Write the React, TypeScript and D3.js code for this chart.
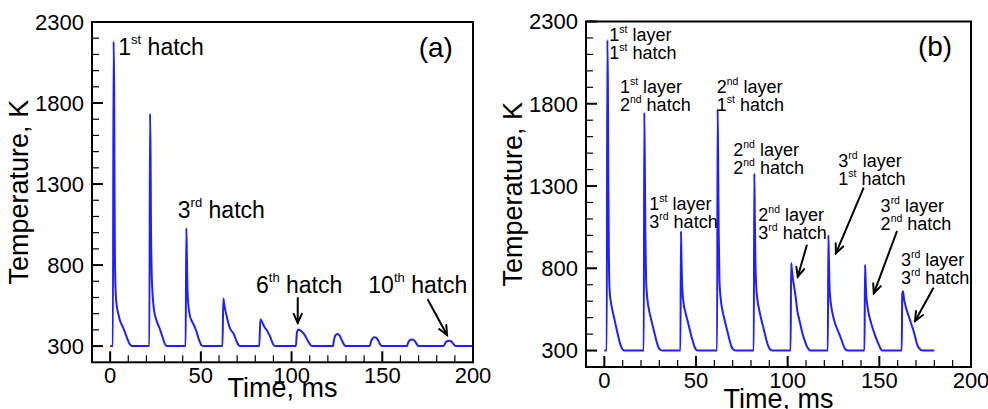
import React from "react";
import * as d3 from "d3";

type Pt = [number, number];

// Single layer, ten successive hatches: [time (ms), temperature (K)]
const singleLayerSeries: Pt[] = [
  [0, 300], [1.5, 300], [1.9, 2180], [2.2, 1900], [2.4, 1300], [2.6, 900], [2.9, 680], [3.5, 560], [4.5, 500], [5.5, 455], [6.5, 430], [7.5, 405], [8.5, 375], [9.5, 345], [10.5, 318], [11.5, 304], [12.5, 300],
  [21.6, 300], [22.0, 1735], [22.3, 1450], [22.5, 1050], [22.8, 800], [23.3, 640], [24.1, 530], [25.5, 460], [26.5, 430], [27.4, 405], [28.3, 375], [29.2, 345], [30.2, 312], [31.2, 301], [32, 300],
  [41.6, 300], [42.0, 1027], [42.3, 850], [42.6, 660], [43.0, 570], [43.9, 490], [45.0, 455], [45.7, 440], [46.7, 415], [47.6, 390], [48.5, 355], [49.4, 327], [50.3, 306], [51.2, 300],
  [61.9, 300], [62.4, 594], [63.0, 550], [64.3, 481], [65.2, 440], [66.1, 409], [67.0, 392], [68.0, 378], [69.0, 350], [69.8, 327], [70.7, 308], [71.6, 300],
  [82.2, 300], [82.8, 465], [83.5, 455], [84.5, 430], [85.4, 412], [86.3, 399], [87.2, 380], [88.2, 358], [89.1, 330], [90.0, 308], [91.0, 300],
  [102.4, 300], [102.9, 380], [103.7, 403], [104.8, 397], [106.0, 386], [107.0, 372], [107.8, 358], [108.7, 338], [109.6, 321], [110.5, 306], [111.5, 300],
  [122.8, 300], [123.4, 340], [124.2, 368], [125.2, 375], [126.3, 368], [127.4, 343], [128.5, 317], [129.4, 303], [130.2, 300],
  [143.1, 300], [143.7, 325], [144.5, 345], [145.5, 355], [146.6, 352], [147.6, 337], [148.6, 315], [149.5, 302], [150.2, 300],
  [163.6, 300], [164.2, 320], [165.0, 335], [166.2, 341], [167.3, 338], [168.3, 325], [169.2, 309], [170.0, 300],
  [183.8, 300], [184.5, 315], [185.4, 328], [186.7, 333], [187.9, 330], [188.9, 318], [189.8, 305], [190.6, 300], [200, 300],
];

// Three layers x three hatches: [time (ms), temperature (K)]
const multiLayerSeries: Pt[] = [
  [0, 300], [1.3, 300], [1.65, 2188], [1.95, 1900], [2.2, 1300], [2.5, 850], [2.9, 660], [3.5, 600], [4.5, 540], [5.5, 490], [6.5, 440], [7.5, 390], [8.5, 345], [9.5, 315], [10.5, 302], [12, 300],
  [21.5, 300], [21.8, 1746], [22.1, 1400], [22.4, 1000], [22.8, 720], [23.5, 610], [24.5, 540], [25.5, 490], [26.5, 445], [27.5, 400], [28.5, 355], [29.5, 320], [30.5, 305], [31.8, 300],
  [41.5, 300], [41.8, 1025], [42.1, 850], [42.5, 680], [43.2, 590], [44.3, 530], [45.3, 485], [46.3, 440], [47.3, 395], [48.3, 355], [49.3, 320], [50.3, 303], [51.5, 300],
  [61.5, 300], [61.8, 1768], [62.1, 1420], [62.4, 1010], [62.8, 725], [63.5, 612], [64.5, 540], [65.5, 490], [66.5, 445], [67.5, 400], [68.5, 355], [69.5, 320], [70.5, 305], [71.8, 300],
  [81.5, 300], [81.8, 1376], [82.1, 1100], [82.4, 850], [82.8, 700], [83.5, 610], [84.5, 545], [85.5, 495], [86.5, 450], [87.5, 405], [88.5, 360], [89.5, 325], [90.5, 306], [91.8, 300],
  [101.6, 300], [101.9, 832], [102.3, 790], [102.8, 740], [103.5, 690], [104.3, 630], [105.3, 540], [106.3, 490], [107.3, 440], [108.3, 395], [109.3, 360], [110.3, 330], [111.3, 310], [112.3, 300],
  [121.9, 300], [122.2, 1001], [122.5, 850], [122.8, 700], [123.4, 600], [124.2, 540], [125.0, 500], [125.9, 463], [126.8, 437], [127.7, 412], [128.6, 388], [129.5, 361], [130.4, 332], [131.3, 310], [132.3, 302], [133, 300],
  [141.9, 300], [142.2, 822], [142.5, 740], [142.8, 650], [143.4, 580], [144.2, 525], [145.0, 488], [145.9, 452], [146.8, 420], [147.7, 391], [148.6, 365], [149.5, 341], [150.5, 315], [151.5, 300],
  [162.2, 300], [162.5, 640], [162.9, 660], [163.5, 610], [164.2, 575], [165, 544], [165.9, 513], [166.8, 483], [167.7, 452], [168.6, 422], [169.5, 385], [170.4, 345], [171.3, 320], [172.2, 308], [173.2, 301], [174, 300], [180, 300],
];

const xDomain: Pt = [-10, 200];
const yDomain: Pt = [200, 2300];
const xMajorTicks = [0, 50, 100, 150, 200];
const xMinorTicks = d3.range(10, 200, 10).filter((v) => v % 50 !== 0);
const yMajorTicks = [300, 800, 1300, 1800, 2300];
const yMinorTicks = d3.range(400, 2300, 100).filter((v) => (v - 300) % 500 !== 0);

const xTitle = "Time, ms";
const yTitle = "Temperature, K";

type Line3 = [string, string, string];
type Note = { t: number; T: number; lines: Line3[] };
type Arrow = { from: Pt; to: Pt };

// Annotation anchors in data coordinates (time, temperature)
const notesA: Note[] = [
  { t: 4.5, T: 2096, lines: [["1", "st", " hatch"]] },
  { t: 37.3, T: 1090, lines: [["3", "rd", " hatch"]] },
  { t: 80.4, T: 628, lines: [["6", "th", " hatch"]] },
  { t: 142.3, T: 628, lines: [["10", "th", " hatch"]] },
];
const arrowsA: Arrow[] = [
  { from: [103.4, 597], to: [103.4, 443] },
  { from: [175.2, 585], to: [185.7, 368] },
];

const notesB: Note[] = [
  { t: 2.7, T: 2181, lines: [["1", "st", " layer"], ["1", "st", " hatch"]] },
  { t: 8.5, T: 1865, lines: [["1", "st", " layer"], ["2", "nd", " hatch"]] },
  { t: 61.3, T: 1865, lines: [["2", "nd", " layer"], ["1", "st", " hatch"]] },
  { t: 70.3, T: 1482, lines: [["2", "nd", " layer"], ["2", "nd", " hatch"]] },
  { t: 24.5, T: 1154, lines: [["1", "st", " layer"], ["3", "rd", " hatch"]] },
  { t: 84.0, T: 1087, lines: [["2", "nd", " layer"], ["3", "rd", " hatch"]] },
  { t: 127.6, T: 1416, lines: [["3", "rd", " layer"], ["1", "st", " hatch"]] },
  { t: 150.7, T: 1142, lines: [["3", "rd", " layer"], ["2", "nd", " hatch"]] },
  { t: 161.8, T: 814, lines: [["3", "rd", " layer"], ["3", "rd", " hatch"]] },
];
const arrowsB: Arrow[] = [
  { from: [110.4, 938], to: [105.5, 749] },
  { from: [141.3, 1286], to: [126.3, 891] },
  { from: [159.5, 1022], to: [147.0, 648] },
  { from: [179.4, 678], to: [169.5, 480] },
];

const FONT = "'Liberation Sans', Arial, Helvetica, sans-serif";
const BLUE = "#1f1fff";

type PanelProps = {
  frame: { left: number; right: number; top: number; bottom: number };
  series: Pt[];
  notes: Note[];
  arrows: Arrow[];
  tag: string;
  tagAt: Pt;
  noteSize: number;
  supSize: number;
  raise: number;
  lead: number;
  xTitleY: number;
};

function Panel(p: PanelProps) {
  const { frame } = p;
  const x = d3.scaleLinear().domain(xDomain).range([frame.left, frame.right]);
  const y = d3.scaleLinear().domain(yDomain).range([frame.bottom, frame.top]);
  const path = d3
    .line<Pt>()
    .x((d) => x(d[0]))
    .y((d) => y(d[1]))
    .curve(d3.curveMonotoneX)(p.series) as string;

  const major = 11;
  const minor = 7;

  return (
    <g fontFamily={FONT} fill="#000">
      <path d={path} fill="none" stroke={BLUE} strokeWidth={2} strokeLinejoin="round" />

      {/* frame */}
      <rect
        x={frame.left}
        y={frame.top}
        width={frame.right - frame.left}
        height={frame.bottom - frame.top}
        fill="none"
        stroke="#000"
        strokeWidth={2}
      />

      {/* x ticks, inward */}
      {xMajorTicks.map((v) => (
        <g key={"xM" + v}>
          <line x1={x(v)} x2={x(v)} y1={frame.bottom} y2={frame.bottom - major} stroke="#000" strokeWidth={2} />
          <text x={x(v)} y={frame.bottom + 21} fontSize={22} textAnchor="middle">
            {v}
          </text>
        </g>
      ))}
      {xMinorTicks.map((v) => (
        <line key={"xm" + v} x1={x(v)} x2={x(v)} y1={frame.bottom} y2={frame.bottom - minor} stroke="#000" strokeWidth={1.2} />
      ))}

      {/* y ticks, inward */}
      {yMajorTicks.map((v) => (
        <g key={"yM" + v}>
          <line x1={frame.left} x2={frame.left + major} y1={y(v)} y2={y(v)} stroke="#000" strokeWidth={2} />
          <text x={frame.left - 8} y={y(v)} dy="0.36em" fontSize={22} textAnchor="end">
            {v}
          </text>
        </g>
      ))}
      {yMinorTicks.map((v) => (
        <line key={"ym" + v} x1={frame.left} x2={frame.left + minor} y1={y(v)} y2={y(v)} stroke="#000" strokeWidth={1.2} />
      ))}

      {/* axis titles */}
      <text x={(frame.left + frame.right) / 2} y={p.xTitleY} fontSize={27} textAnchor="middle">
        {xTitle}
      </text>
      <text
        transform={`translate(${frame.left - 64},${(frame.top + frame.bottom) / 2}) rotate(-90)`}
        fontSize={27}
        textAnchor="middle"
      >
        {yTitle}
      </text>

      {/* panel tag */}
      <text x={x(p.tagAt[0])} y={y(p.tagAt[1])} fontSize={28} textAnchor="middle">
        {p.tag}
      </text>

      {/* annotations */}
      {p.notes.map((n, i) =>
        n.lines.map((ln, j) => (
          <text
            key={`n${i}-${j}`}
            x={x(n.t)}
            y={y(n.T) + j * p.lead}
            fontSize={p.noteSize}
            style={{ whiteSpace: "pre" }}
          >
            <tspan>{ln[0]}</tspan>
            <tspan dy={-p.raise} fontSize={p.supSize}>
              {ln[1]}
            </tspan>
            <tspan dy={p.raise}>{ln[2]}</tspan>
          </text>
        ))
      )}

      {p.arrows.map((a, i) => {
        const x1 = x(a.from[0]);
        const y1 = y(a.from[1]);
        const x2 = x(a.to[0]);
        const y2 = y(a.to[1]);
        const ang = Math.atan2(y2 - y1, x2 - x1);
        const len = 10;
        const spread = 0.42;
        const hx1 = x2 - len * Math.cos(ang - spread);
        const hy1 = y2 - len * Math.sin(ang - spread);
        const hx2 = x2 - len * Math.cos(ang + spread);
        const hy2 = y2 - len * Math.sin(ang + spread);
        return (
          <g key={"a" + i} stroke="#000" strokeWidth={2} fill="none" strokeLinecap="round">
            <line x1={x1} y1={y1} x2={x2} y2={y2} />
            <polyline points={`${hx1},${hy1} ${x2},${y2} ${hx2},${hy2}`} strokeLinejoin="miter" />
          </g>
        );
      })}
    </g>
  );
}

export default function App() {
  return (
    <svg
      width={988}
      height={409}
      viewBox="0 0 988 409"
      style={{ position: "absolute", left: 0, top: 0, background: "#fff", display: "block" }}
    >
      <rect x={0} y={0} width={988} height={409} fill="#fff" />
      <Panel
        frame={{ left: 92, right: 473, top: 22, bottom: 362.3 }}
        series={singleLayerSeries}
        notes={notesA}
        arrows={arrowsA}
        tag="(a)"
        tagAt={[179.5, 2084]}
        noteSize={23}
        supSize={13}
        raise={11}
        lead={0}
        xTitleY={397}
      />
      <Panel
        frame={{ left: 586, right: 971, top: 21.5, bottom: 367 }}
        series={multiLayerSeries}
        notes={notesB}
        arrows={arrowsB}
        tag="(b)"
        tagAt={[180.4, 2090]}
        noteSize={18}
        supSize={10.5}
        raise={8}
        lead={18}
        xTitleY={407.5}
      />
    </svg>
  );
}
